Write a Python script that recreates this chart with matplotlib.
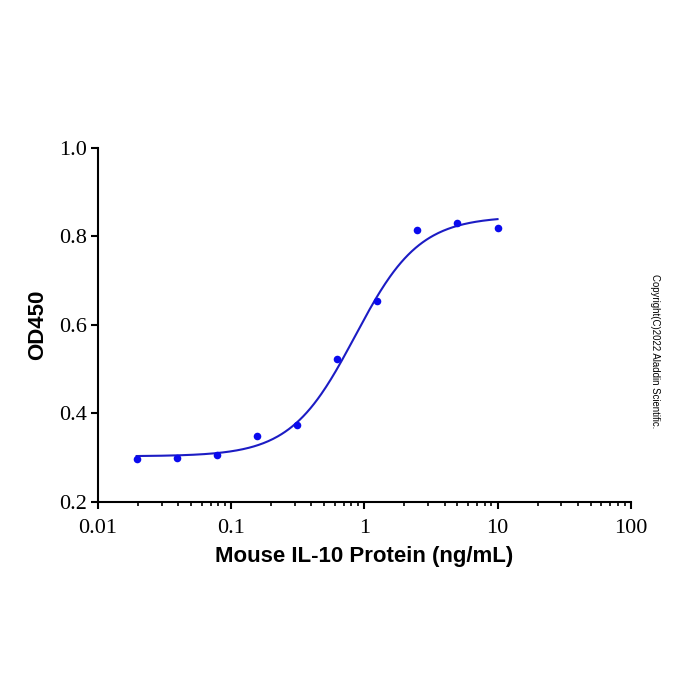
import numpy as np
import matplotlib.pyplot as plt
from matplotlib.ticker import LogLocator, NullFormatter, FixedLocator

# measured points
conc = [0.0195, 0.039, 0.078, 0.156, 0.3125, 0.625, 1.25, 2.5, 5, 10]
od450 = [0.297, 0.299, 0.306, 0.349, 0.374, 0.523, 0.654, 0.815, 0.830, 0.819]

# 4PL fit parameters
bottom = 0.303
top = 0.845
ec50 = 0.85
hill = 1.8

x_ticks = [0.01, 0.1, 1, 10, 100]
x_tick_labels = ['0.01', '0.1', '1', '10', '100']
y_ticks = [0.2, 0.4, 0.6, 0.8, 1.0]
y_tick_labels = ['0.2', '0.4', '0.6', '0.8', '1.0']

fig = plt.figure(figsize=(7, 7), dpi=100)
ax = fig.add_axes([0.14, 0.283, 0.761, 0.506])

xs = np.logspace(np.log10(conc[0]), np.log10(conc[-1]), 300)
ys = bottom + (top - bottom) / (1 + (ec50 / xs) ** hill)
ax.plot(xs, ys, color='#1c1cc4', lw=1.5, zorder=2)
ax.scatter(conc, od450, s=30, color='#0a0aee', zorder=3, linewidths=0)

ax.set_xscale('log')
ax.set_xlim(0.01, 100)
ax.set_ylim(0.2, 1.0)
ax.xaxis.set_major_locator(FixedLocator(x_ticks))
ax.set_xticklabels(x_tick_labels)
ax.xaxis.set_minor_locator(LogLocator(base=10, subs=np.arange(2, 10)))
ax.xaxis.set_minor_formatter(NullFormatter())
ax.set_yticks(y_ticks)
ax.set_yticklabels(y_tick_labels)

for s in ['top', 'right']:
    ax.spines[s].set_visible(False)
for s in ['left', 'bottom']:
    ax.spines[s].set_linewidth(1.5)

ax.tick_params(axis='both', which='major', direction='out', length=5, width=1.5)
ax.tick_params(axis='x', which='major', pad=7)
ax.tick_params(axis='y', which='major', pad=3)
ax.tick_params(axis='x', which='minor', direction='out', length=3, width=1.2)
for lab in ax.get_xticklabels() + ax.get_yticklabels():
    lab.set_fontfamily('Liberation Serif')
    lab.set_fontsize(16)

ax.set_xlabel('Mouse IL-10 Protein (ng/mL)', fontsize=16, fontweight='bold',
              family='Liberation Sans', labelpad=6)
ax.set_ylabel('OD450', fontsize=16, fontweight='bold',
              family='Liberation Sans', labelpad=8)

fig.text(0.936, 0.498, 'Copyright(C)2022 Aladdin Scientific.', rotation=-90,
         fontsize=6.9, family='Liberation Sans', ha='center', va='center')

fig.savefig('out.png', dpi=100)
